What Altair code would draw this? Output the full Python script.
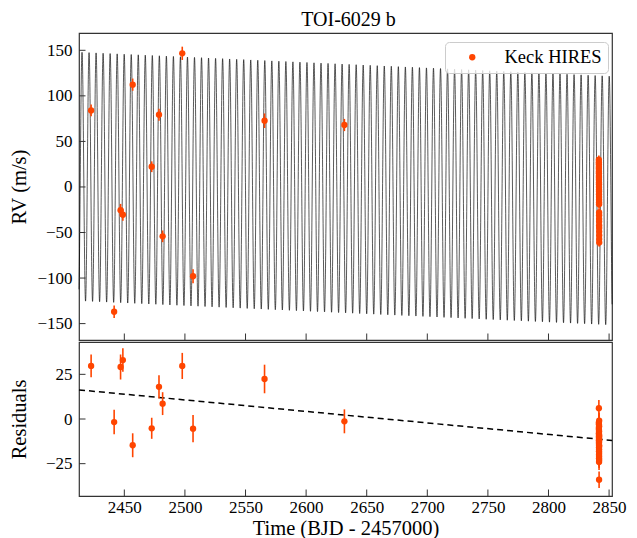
import numpy as np
import pandas as pd
import altair as alt

FONT = "Liberation Serif"
ORANGE = "#ff4500"

# ---- Keck HIRES radial velocities (time in BJD - 2457000) ----
time_obs = [2422.6, 2441.6, 2446.9, 2448.8, 2456.9, 2472.6, 2478.6, 2481.6,
            2497.8, 2506.7, 2565.7, 2631.6]
rv_obs = [84.0, -137.0, -25.6, -30.5, 112.3, 22.2, 79.3, -54.2,
          146.7, -98.0, 72.7, 68.0]
res_obs = [29.7, -1.7, 29.1, 33.0, -14.7, -5.2, 18.0, 8.6,
           29.7, -5.4, 22.4, -1.3]
err_obs = [6.4, 6.9, 7.0, 6.6, 6.7, 5.9, 6.5, 6.4, 7.3, 7.6, 8.0, 6.7]

# ---- transit-night sequence ----
time_night = [2841.55, 2841.56, 2841.57, 2841.58, 2841.59, 2841.60, 2841.61,
              2841.62, 2841.63, 2841.64, 2841.65, 2841.66, 2841.67, 2841.68,
              2841.69, 2841.70, 2841.71, 2841.72, 2841.73, 2841.74, 2841.75,
              2841.76, 2841.77, 2841.78, 2841.79, 2841.80, 2841.81, 2841.82,
              2841.83, 2841.84]
rv_night = [30.0, 27.0, 25.0, 22.0, 20.0, 17.0, 15.0, 12.0, 10.0, 8.0,
            5.0, 3.0, 0.0, -3.0, -5.0, -8.0, -11.0, -14.0, -17.0, -19.0,
            -28.0, -31.0, -35.0, -38.0, -42.0, -45.0, -49.0, -53.0, -57.0, -61.0]
res_night = [-2.0, -5.0, 6.0, -8.0, -10.0, -3.0, -12.0, -6.0, -14.0, -9.0,
             -16.0, -18.0, -11.0, -20.0, -13.0, -22.0, -15.0, -24.0, -7.0, -19.0,
             -34.0, -17.0, -21.0, -4.0, -12.0, -9.0, -1.0, -23.0, -15.0, -10.0]
err_night = [4.5, 4.4, 4.6, 4.5, 4.3, 4.5, 4.6, 4.4, 4.5, 4.5,
             4.4, 4.6, 4.5, 4.3, 4.5, 4.4, 4.6, 4.5, 4.4, 4.5,
             4.6, 4.5, 4.4, 4.5, 4.3, 4.5, 4.6, 4.4, 4.5, 4.5]

# ---- orbit model parameters ----
period = 5.80
t_peak = 2420.9
semi_amp = 136.5
gamma_t = [2412.6, 2852.4]
gamma_v = [11.5, -15.0]

# ---- residual trend line ----
trend_t = [2412.6, 2852.4]
trend_res = [16.3, -12.0]

# ---- axes ----
x_domain = [2412.6, 2852.4]
rv_domain = [-168.0, 169.0]
res_domain = [-43.1, 43.1]
x_ticks = [2450, 2500, 2550, 2600, 2650, 2700, 2750, 2800, 2850]
rv_ticks = [-150, -100, -50, 0, 50, 100, 150]
res_ticks = [-25, 0, 25]

W, H1, H2 = 533, 307, 154
TICK = 6.5

obs = pd.DataFrame({
    "t": time_obs + time_night,
    "rv": rv_obs + rv_night,
    "res": res_obs + res_night,
    "err": err_obs + err_night,
})
obs["inst"] = "Keck HIRES"

tt = np.arange(x_domain[0], x_domain[1] + 0.06, 0.06)
model = pd.DataFrame({
    "t": tt,
    "rv": np.interp(tt, gamma_t, gamma_v) + semi_amp * np.cos(2 * np.pi * (tt - t_peak) / period),
})
trend = pd.DataFrame({"t": trend_t, "res": trend_res})
xt = pd.DataFrame({"v": x_ticks})
yt1 = pd.DataFrame({"v": rv_ticks})
yt2 = pd.DataFrame({"v": res_ticks})

xs = alt.Scale(domain=x_domain, nice=False, zero=False)
ys1 = alt.Scale(domain=rv_domain, nice=False, zero=False)
ys2 = alt.Scale(domain=res_domain, nice=False, zero=False)
x_none = alt.X("t:Q", scale=xs, axis=None)

# ---------------- top panel ----------------
y1_axis = alt.Axis(values=rv_ticks, ticks=False, domain=False, grid=False,
                   labelPadding=7, title="RV (m/s)", titlePadding=7.5)

model_line = alt.Chart(model).mark_line(color="black", strokeWidth=0.65).encode(
    x=x_none, y=alt.Y("rv:Q", scale=ys1, axis=y1_axis))

err1 = alt.Chart(obs).transform_calculate(
    lo="datum.rv - datum.err", hi="datum.rv + datum.err"
).mark_rule(color=ORANGE, strokeWidth=1.6).encode(
    x=x_none, y=alt.Y("lo:Q", scale=ys1), y2="hi:Q")

pts1 = alt.Chart(obs).mark_circle(size=40, opacity=1).encode(
    x=x_none, y=alt.Y("rv:Q", scale=ys1),
    color=alt.Color("inst:N", scale=alt.Scale(domain=["Keck HIRES"], range=[ORANGE]),
                    legend=alt.Legend(title=None, orient="none", legendX=366, legendY=9,
                                      fillColor="rgba(255,255,255,0.8)",
                                      strokeColor="#cccccc", cornerRadius=4, padding=6,
                                      symbolType="circle", symbolSize=40,
                                      symbolStrokeWidth=0, symbolOffset=12,
                                      labelOffset=23, labelFont=FONT,
                                      labelFontSize=18.5, labelColor="black")))

xtick1 = alt.Chart(xt).mark_rule(color="#333", strokeWidth=1).encode(
    x=alt.X("v:Q", scale=xs, axis=None), y=alt.value(H1 - TICK), y2=alt.value(H1))
ytick1 = alt.Chart(yt1).mark_rule(color="#333", strokeWidth=1).encode(
    y=alt.Y("v:Q", scale=ys1), x=alt.value(0), x2=alt.value(TICK))

top = alt.layer(model_line, err1, pts1, xtick1, ytick1).properties(
    width=W, height=H1,
    title=alt.TitleParams("TOI-6029 b", anchor="middle", frame="group", offset=3, dx=3))

# ---------------- bottom panel ----------------
x_axis = alt.Axis(values=x_ticks, ticks=False, domain=False, grid=False, format="d",
                  labelPadding=3, title="Time (BJD - 2457000)", titlePadding=3)
y2_axis = alt.Axis(values=res_ticks, ticks=False, domain=False, grid=False,
                   labelPadding=7, title="Residuals", titlePadding=16)

trend_line = alt.Chart(trend).mark_line(color="black", strokeWidth=1.5,
                                        strokeDash=[6, 4]).encode(
    x=alt.X("t:Q", scale=xs, axis=x_axis), y=alt.Y("res:Q", scale=ys2, axis=y2_axis))

err2 = alt.Chart(obs).transform_calculate(
    lo="datum.res - datum.err", hi="datum.res + datum.err"
).mark_rule(color=ORANGE, strokeWidth=1.6).encode(
    x=alt.X("t:Q", scale=xs), y=alt.Y("lo:Q", scale=ys2), y2="hi:Q")

pts2 = alt.Chart(obs).mark_circle(size=40, opacity=1, color=ORANGE).encode(
    x=alt.X("t:Q", scale=xs), y=alt.Y("res:Q", scale=ys2))

xtick2 = alt.Chart(xt).mark_rule(color="#333", strokeWidth=1).encode(
    x=alt.X("v:Q", scale=xs), y=alt.value(H2 - TICK), y2=alt.value(H2))
ytick2 = alt.Chart(yt2).mark_rule(color="#333", strokeWidth=1).encode(
    y=alt.Y("v:Q", scale=ys2), x=alt.value(0), x2=alt.value(TICK))

bottom = alt.layer(trend_line, err2, pts2, xtick2, ytick2).properties(width=W, height=H2)

chart = alt.vconcat(top, bottom, spacing=-3).resolve_legend(color="independent").properties(
    padding={"left": 0, "top": 1, "right": 0, "bottom": 0}
).configure_view(stroke="#333", strokeWidth=1.2).configure_axis(
    labelFont=FONT, labelFontSize=17, labelColor="black",
    titleFont=FONT, titleFontSize=20.5, titleFontWeight="normal", titleColor="black"
).configure_title(font=FONT, fontSize=20, fontWeight="normal", color="black")

chart.save("out.html", embed_options={"renderer": "svg", "actions": False})
